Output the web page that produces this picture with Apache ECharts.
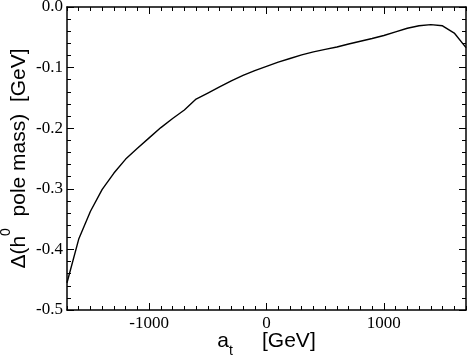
<!DOCTYPE html>
<html>
<head>
<meta charset="utf-8">
<script src="https://cdn.jsdelivr.net/npm/echarts@6/dist/echarts.min.js"></script>
<style>
  html, body { margin: 0; padding: 0; background: #fff; }
  #chart { width: 469px; height: 359px; }
</style>
</head>
<body>
<div id="chart"></div>
<script>
// a_t values [GeV] and the shift of the h0 pole mass [GeV]
const atValues = [-1700, -1600, -1500, -1400, -1300, -1200, -1100, -1000, -900, -800,
  -700, -600, -500, -400, -300, -200, -100, 0, 100, 200, 300, 400, 500, 600, 700,
  800, 900, 1000, 1100, 1200, 1300, 1400, 1500, 1600, 1700];
const deltaMass = [-0.455, -0.383, -0.337, -0.301, -0.274, -0.251, -0.233, -0.216, -0.199, -0.184,
  -0.170, -0.152, -0.142, -0.132, -0.122, -0.113, -0.105, -0.098, -0.091, -0.085, -0.079, -0.074, -0.070, -0.066, -0.061,
  -0.0565, -0.052, -0.047, -0.041, -0.035, -0.031, -0.029, -0.031, -0.043, -0.067];
const xMajorTicks = [-1000, 0, 1000];

const chart = echarts.init(document.getElementById('chart'));

const serif = 'Liberation Serif';
const sans = 'Liberation Sans';
const frame = { show: true, onZero: false, lineStyle: { color: '#000', width: 1.5 } };
const noLine = { show: false, onZero: false };
const xRange = { type: 'value', min: -1700, max: 1700 };
const yRange = { type: 'value', min: -0.5, max: 0 };

// minor-tick axis (every 100) and major-tick axis (labels) for bottom and top
const xAxes = [
  Object.assign({}, xRange, {
    position: 'bottom', interval: 100,
    axisLine: frame,
    axisTick: { inside: true, length: 4, lineStyle: { color: '#000', width: 1 } },
    axisLabel: { show: false }, splitLine: { show: false },
    name: '{a|a}{sub|t}     {a|[GeV]}',
    nameLocation: 'middle', nameGap: 21, nameMoveOverlap: false,
    nameTextStyle: {
      color: '#000', fontFamily: sans, fontSize: 21,
      rich: {
        a: { fontFamily: sans, fontSize: 21, color: '#000', lineHeight: 21, verticalAlign: 'top' },
        sub: { fontFamily: sans, fontSize: 14, color: '#000', lineHeight: 40 }
      }
    }
  }),
  Object.assign({}, xRange, {
    position: 'bottom',
    axisLine: noLine,
    axisTick: { inside: true, length: 7, customValues: xMajorTicks, lineStyle: { color: '#000', width: 1 } },
    axisLabel: {
      customValues: xMajorTicks, color: '#000', fontFamily: serif, fontSize: 17, margin: 5,
      formatter: v => String(v)
    },
    splitLine: { show: false }
  }),
  Object.assign({}, xRange, {
    position: 'top', interval: 100,
    axisLine: frame,
    axisTick: { inside: true, length: 4, lineStyle: { color: '#000', width: 1 } },
    axisLabel: { show: false }, splitLine: { show: false }
  }),
  Object.assign({}, xRange, {
    position: 'top',
    axisLine: noLine,
    axisTick: { inside: true, length: 7, customValues: xMajorTicks, lineStyle: { color: '#000', width: 1 } },
    axisLabel: { show: false }, splitLine: { show: false }
  })
];

const yAxes = [
  Object.assign({}, yRange, {
    position: 'left', interval: 0.1,
    axisLine: frame,
    axisTick: { inside: true, length: 7, lineStyle: { color: '#000', width: 1 } },
    minorTick: { show: true, splitNumber: 5, length: 4, lineStyle: { color: '#000', width: 1 } },
    axisLabel: {
      color: '#000', fontFamily: serif, fontSize: 17, margin: 4,
      formatter: v => v.toFixed(1)
    },
    splitLine: { show: false },
    name: '{m|Δ(h}{sup|0}{m|  pole mass)  [GeV]}',
    nameLocation: 'middle', nameGap: 28, nameRotate: 90, nameMoveOverlap: false,
    nameTextStyle: {
      color: '#000', fontFamily: sans, fontSize: 21,
      rich: {
        m: { fontFamily: sans, fontSize: 21, color: '#000', lineHeight: 40 },
        sup: { fontFamily: sans, fontSize: 14, color: '#000', lineHeight: 14, verticalAlign: 'top' }
      }
    }
  }),
  Object.assign({}, yRange, {
    position: 'right', interval: 0.1,
    axisLine: frame,
    axisTick: { inside: true, length: 7, lineStyle: { color: '#000', width: 1 } },
    minorTick: { show: true, splitNumber: 5, length: 4, lineStyle: { color: '#000', width: 1 } },
    axisLabel: { show: false }, splitLine: { show: false }
  })
];

chart.setOption({
  animation: false,
  backgroundColor: '#fff',
  grid: { left: 67, right: 3, top: 7, bottom: 49, containLabel: false, outerBoundsMode: 'none' },
  xAxis: xAxes,
  yAxis: yAxes,
  series: [{
    type: 'line',
    xAxisIndex: 0,
    yAxisIndex: 0,
    data: atValues.map((x, i) => [x, deltaMass[i]]),
    showSymbol: false,
    lineStyle: { color: '#000', width: 1.4 },
    clip: true
  }]
});
</script>
</body>
</html>
